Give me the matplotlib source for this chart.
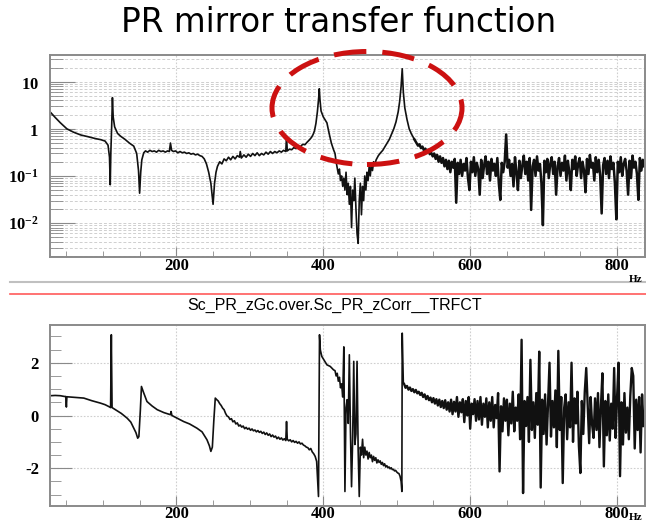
import numpy as np
import matplotlib.pyplot as plt
from matplotlib.patches import Ellipse
from matplotlib.ticker import FixedLocator, MultipleLocator, NullFormatter

plt.rcParams['mathtext.fontset'] = 'custom'
plt.rcParams['mathtext.bf'] = 'Liberation Serif:bold'
plt.rcParams['mathtext.rm'] = 'Liberation Serif:bold'
plt.rcParams['axes.unicode_minus'] = False

title = 'PR mirror transfer function'
subtitle = 'Sc_PR_zGc.over.Sc_PR_zCorr__TRFCT'

# ---- magnitude (top panel) ----
mag_freq = [28.6, 35, 42, 51, 60, 70, 80, 90, 97, 103, 107, 109, 110, 110.8, 112, 113, 114, 116,
            120, 124, 130, 136, 142, 146, 148.5, 150, 151.5, 153, 155.6, 158, 161, 164, 167, 170,
            173, 176, 179, 182, 185, 188, 190.5, 192, 193.5, 196, 199, 202, 205, 208, 211, 214,
            217, 220, 223, 226, 229, 232, 235, 238, 241, 244, 247, 250, 252, 254, 256, 259, 262,
            265, 268, 271, 274, 277, 280, 283, 286, 287, 288.5, 292, 295, 298, 301, 304, 307, 310,
            313, 316, 319, 322, 325, 328, 331, 334, 337, 340, 343, 346, 349, 350, 351, 354, 357,
            360, 363, 366, 369, 372, 375, 378, 381, 384, 386, 388, 390, 392, 394, 394.6, 395.5,
            397, 400, 403, 405, 408, 411, 414]
mag_vals = [2.25, 1.75, 1.35, 1.0, 0.85, 0.74, 0.68, 0.62, 0.59, 0.55, 0.45, 0.25, 0.065, 0.3, 1.2,
            4.6, 1.8, 1.1, 0.8, 0.7, 0.6, 0.5, 0.43, 0.3, 0.13, 0.043, 0.12, 0.22, 0.31, 0.34, 0.32,
            0.35, 0.33, 0.34, 0.32, 0.35, 0.33, 0.34, 0.32, 0.34, 0.33, 0.5, 0.35, 0.33, 0.34, 0.31,
            0.33, 0.31, 0.32, 0.3, 0.31, 0.29, 0.3, 0.28, 0.29, 0.27, 0.26, 0.23, 0.18, 0.12, 0.07,
            0.025, 0.07, 0.12, 0.16, 0.2, 0.18, 0.23, 0.21, 0.25, 0.22, 0.26, 0.23, 0.27, 0.25, 0.33,
            0.24, 0.28, 0.25, 0.29, 0.26, 0.3, 0.27, 0.31, 0.27, 0.3, 0.28, 0.32, 0.29, 0.33, 0.3,
            0.33, 0.31, 0.34, 0.32, 0.35, 0.33, 0.7, 0.34, 0.37, 0.36, 0.4, 0.38, 0.43, 0.42, 0.47,
            0.46, 0.52, 0.58, 0.66, 0.75, 0.9, 1.3, 2.3, 5.0, 7.1, 4.2, 2.4, 1.8, 1.5, 1.34, 0.8,
            0.5, 0.36]

# valley between the two resonances, 416..470 Hz
mag_valley = [0.3, 0.2, 0.15, 0.11, 0.14, 0.08, 0.1, 0.06, 0.09, 0.05, 0.12, 0.04, 0.07, 0.025,
              0.06, 0.008, 0.05, 0.03, 0.09, 0.02, 0.006, 0.0037, 0.03, 0.07, 0.015, 0.06, 0.03,
              0.1, 0.05, 0.12, 0.08, 0.16, 0.1, 0.18, 0.13, 0.2, 0.17]

mag_peak2_freq = [472, 475, 478, 481, 484, 487, 490, 493, 496, 499, 502, 504, 506, 507.5, 509,
                  511, 514, 517, 520, 524]
mag_peak2_vals = [0.22, 0.27, 0.31, 0.35, 0.42, 0.5, 0.6, 0.78, 1.0, 1.4, 2.3, 3.8, 8.0, 18.9, 6.0,
                  2.8, 1.58, 1.0, 0.78, 0.6]

# high-frequency noise floor, 527..837 Hz every 2 Hz
mag_tail = [0.5, 0.44, 0.47, 0.39, 0.42, 0.35, 0.38, 0.32, 0.36, 0.29,
            0.31, 0.26, 0.3, 0.23, 0.28, 0.2, 0.26, 0.19, 0.24, 0.16,
            0.22, 0.14, 0.21, 0.12, 0.2, 0.15, 0.23, 0.027, 0.19, 0.11,
            0.22, 0.1, 0.18, 0.13, 0.24, 0.09, 0.05, 0.2, 0.12, 0.25,
            0.1, 0.19, 0.14, 0.04, 0.22, 0.09, 0.17, 0.26, 0.11, 0.2,
            0.08, 0.23, 0.13, 0.18, 0.1, 0.24, 0.07, 0.031, 0.19, 0.12,
            0.2, 0.76, 0.15, 0.22, 0.1, 0.18, 0.06, 0.25, 0.12, 0.05,
            0.21, 0.09, 0.17, 0.27, 0.11, 0.2, 0.08, 0.24, 0.019, 0.16,
            0.22, 0.1, 0.26, 0.13, 0.18, 0.07, 0.009, 0.21, 0.12, 0.23,
            0.09, 0.18, 0.25, 0.11, 0.2, 0.04, 0.16, 0.24, 0.1, 0.19,
            0.13, 0.27, 0.08, 0.21, 0.12, 0.05, 0.22, 0.14, 0.26, 0.1,
            0.18, 0.24, 0.09, 0.2, 0.13, 0.045, 0.23, 0.11, 0.28, 0.15,
            0.19, 0.08, 0.25, 0.12, 0.22, 0.1, 0.016, 0.17, 0.24, 0.11,
            0.21, 0.09, 0.26, 0.14, 0.19, 0.07, 0.012, 0.2, 0.12, 0.25,
            0.1, 0.18, 0.23, 0.13, 0.04, 0.21, 0.09, 0.27, 0.15, 0.2,
            0.11, 0.031, 0.24, 0.13, 0.22, 0.16]

# ---- phase (bottom panel) ----
ph_freq = [28.6, 35, 42, 48, 49.5, 50.3, 51, 60, 74, 85, 96.6, 103, 108, 110.5, 111.5, 112.5, 117,
           125, 133, 138, 142, 145, 147.4, 149, 151, 152.5, 155, 160, 167, 174, 183, 192, 192.8,
           194, 201, 210, 218, 228, 235, 241.7, 245, 247, 249, 251, 253, 255, 257, 259, 261, 263,
           265, 267, 269, 271, 273, 275, 277, 279, 281, 283, 285, 287, 289, 291, 293, 295, 297,
           299, 301, 303, 305, 307, 309, 311, 313, 315, 317, 319, 321, 323, 325, 327, 329, 331,
           333, 335, 337, 339, 341, 343, 345, 347, 349, 350, 351, 353, 355, 357, 359, 361, 363,
           365, 367, 369, 371, 373, 375, 377, 379, 381, 383, 385, 387, 389, 391, 392.5, 393.5,
           394.9, 396, 398, 401, 405, 409.5, 414]
ph_vals = [0.75, 0.76, 0.75, 0.72, 0.72, 0.32, 0.71, 0.69, 0.66, 0.56, 0.47, 0.41, 0.34, 0.3, 3.06,
           0.3, 0.22, 0.08, -0.1, -0.25, -0.48, -0.65, -0.86, -0.8, 0.2, 1.1, 0.9, 0.53, 0.36, 0.22,
           0.11, 0.03, 0.15, 0.0, -0.1, -0.23, -0.32, -0.48, -0.62, -0.92, -1.15, -1.36, -1.2, -0.2,
           0.66, 0.6, 0.55, 0.45, 0.38, 0.28, 0.22, 0.08, -0.02, -0.05, -0.15, -0.12, -0.24, -0.2,
           -0.32, -0.28, -0.4, -0.36, -0.44, -0.4, -0.5, -0.45, -0.52, -0.48, -0.56, -0.51, -0.58,
           -0.55, -0.62, -0.57, -0.64, -0.6, -0.68, -0.63, -0.72, -0.66, -0.75, -0.7, -0.8, -0.74,
           -0.82, -0.78, -0.88, -0.82, -0.9, -0.85, -0.93, -0.88, -0.95, -0.23, -0.9, -0.96, -0.92,
           -1.0, -0.95, -1.02, -0.98, -1.05, -1.0, -1.08, -1.05, -1.12, -1.15, -1.2, -1.22, -1.3,
           -1.25, -1.38, -1.45, -1.55, -1.74, -2.5, -3.07, 3.06, 2.49, 2.24, 2.1, 1.92, 1.86, 1.73]

# 416..506 Hz every 1.5 Hz
ph_valley = [1.7, 1.5, 1.6, 1.3, 1.45, 1.05, 1.2, 0.7, 2.6, -2.88,
             0.3, 0.6, -0.3, 2.3, -0.6, -2.7, -0.9, 2.05, -1.1, -0.7,
             2.05, -1.3, -3.07, -1.2, -1.5, -0.9, -1.6, -1.2, -1.5, -1.35,
             -1.65, -1.4, -1.6, -1.5, -1.75, -1.55, -1.7, -1.6, -1.8, -1.68,
             -1.78, -1.72, -1.85, -1.78, -1.9, -1.83, -1.95, -1.9, -1.98, -1.95,
             -2.02, -1.98, -2.05, -2.04, -2.1, -2.08, -2.14, -2.18, -2.2, -2.3,
             -2.5]
ph_jump_freq = [507, 507.5]
ph_jump_vals = [-2.88, 3.12]

# 510..836 Hz every 2 Hz
ph_tail = [1.2, 1.05, 1.12, 0.98, 1.06, 0.93, 1.0, 0.88, 0.97, 0.84,
           0.9, 0.78, 0.86, 0.7, 0.8, 0.62, 0.74, 0.58, 0.68, 0.5,
           0.66, 0.45, 0.62, 0.38, 0.6, 0.32, 0.55, 0.28, 0.58, 0.22,
           0.5, 0.15, 0.6, 0.05, 0.52, 0.15, 0.7, -0.05, 0.5, 0.12,
           0.62, -0.25, 0.55, 0.0, 0.7, -0.5, 0.45, 0.05, 0.62, -0.2,
           0.55, -0.15, 0.7, -0.35, 0.45, -0.05, 0.65, -0.45, 0.5, -0.2,
           0.7, -0.45, 0.4, -0.1, 0.85, -2.12, 0.35, -0.6, 0.65, -0.2,
           0.6, -0.75, 0.45, -0.3, 0.9, -0.6, 0.3, -0.2, 0.8, -0.9,
           2.87, -2.94, 0.55, -0.4, 0.7, -1.0, 2.11, -0.55, 0.5, -0.85,
           0.85, -0.35, 2.42, -2.73, 0.6, -0.7, 0.8, -1.1, 0.4, 2.0,
           -0.8, 0.55, -0.45, 0.95, -1.2, 2.45, -0.55, 0.7, -2.56, 0.3,
           0.8, -0.9, 0.5, -0.45, 2.0, -1.0, 0.65, -0.3, 0.9, -1.15,
           -2.18, 0.55, -0.7, 0.9, 1.8, 0.4, -1.05, 0.7, -0.35, -0.85,
           0.65, -0.55, 0.85, -1.2, 0.35, 1.6, -1.93, 0.55, -0.75, 0.8,
           -0.95, 0.45, -0.5, 1.8, -0.85, 0.7, 2.0, -2.3, 0.5, -1.1,
           0.85, -0.65, 0.3, -0.9, 0.75, 1.8, 1.5, -1.25, 0.6, -0.55,
           0.7, -1.4, 0.8, -0.4]

x_ticks = [200, 400, 600, 800]
mag_ticks = [0.01, 0.1, 1, 10]
mag_labels = [r'$\mathbf{10^{-2}}$', r'$\mathbf{10^{-1}}$', r'$\mathbf{1}$', r'$\mathbf{10}$']
ph_ticks = [-2, 0, 2]

# assemble series (the noisy parts are kept apart so they can be drawn heavier)
f_top = np.concatenate([mag_freq, np.linspace(416, 470, len(mag_valley)), mag_peak2_freq])
y_top = np.concatenate([mag_vals, mag_valley, mag_peak2_vals])
f_top_tail = np.concatenate([[524], np.linspace(527, 527 + 2 * (len(mag_tail) - 1), len(mag_tail))])
y_top_tail = np.concatenate([[0.6], mag_tail])
f_bot = np.concatenate([ph_freq, np.linspace(416, 506, len(ph_valley)), ph_jump_freq, [509]])
y_bot = np.concatenate([ph_vals, ph_valley, ph_jump_vals, [1.23]])
f_bot_tail = np.concatenate([[509], np.linspace(510, 510 + 2 * (len(ph_tail) - 1), len(ph_tail))])
y_bot_tail = np.concatenate([[1.23], ph_tail])

W, H = 646, 523
fig = plt.figure(figsize=(W / 100, H / 100), dpi=100)

tick_font = dict(family='Liberation Serif', weight='bold', size=12)
frame_col = '#8a8a8a'
grid_col = '#cfcfcf'
line_col = '#111111'


def style_axes(ax):
    for s in ax.spines.values():
        s.set_color(frame_col)
        s.set_linewidth(1.4)
    ax.tick_params(which='both', direction='in', colors=frame_col, top=False, right=False)
    ax.tick_params(axis='x', which='major', length=7, pad=1)
    ax.tick_params(axis='x', which='minor', length=4)
    ax.tick_params(axis='both', which='both', labelcolor='black')
    ax.xaxis.set_major_locator(FixedLocator(x_ticks))
    ax.xaxis.set_minor_locator(MultipleLocator(50))
    ax.set_xticklabels([str(v) for v in x_ticks], fontdict=tick_font)
    ax.set_xlim(28, 838)
    ax.grid(which='major', axis='x', color=grid_col, ls=(0, (1.5, 1.5)), lw=0.8)


# top panel: magnitude
ax1 = fig.add_axes([50 / W, 1 - 257 / H, 595 / W, 202 / H])
ax1.plot(f_top, y_top, color=line_col, lw=1.2)
ax1.plot(f_top_tail, y_top_tail, color=line_col, lw=1.8)
ax1.set_yscale('log')
ax1.set_ylim(0.0019, 37)
style_axes(ax1)
ax1.yaxis.set_major_locator(FixedLocator(mag_ticks))
ax1.set_yticklabels(mag_labels, fontsize=12)
ax1.yaxis.set_minor_formatter(NullFormatter())
ax1.tick_params(axis='y', which='major', length=18, pad=8)
ax1.tick_params(axis='y', which='minor', length=9)
ax1.grid(which='both', axis='y', color=grid_col, ls=(0, (3, 2)), lw=0.7)

# bottom panel: phase
ax2 = fig.add_axes([50 / W, 1 - 506 / H, 595 / W, 181 / H])
ax2.plot(f_bot, y_bot, color=line_col, lw=1.2)
ax2.plot(f_bot_tail, y_bot_tail, color=line_col, lw=1.7)
ax2.set_ylim(-3.43, 3.43)
style_axes(ax2)
ax2.tick_params(axis='x', which='major', pad=0)
ax2.yaxis.set_major_locator(FixedLocator(ph_ticks))
ax2.yaxis.set_minor_locator(MultipleLocator(0.5))
ax2.set_yticklabels([str(v) for v in ph_ticks], fontdict=tick_font)
ax2.tick_params(axis='y', which='major', length=16, pad=8)
ax2.tick_params(axis='y', which='minor', length=8)
ax2.grid(which='major', axis='y', color=grid_col, ls=(0, (1.5, 1.5)), lw=0.8)

# titles, separators, units
fig.text(339 / W, 1 - 22 / H, title, ha='center', va='center', fontsize=23.5,
         family='DejaVu Sans')
fig.text(335 / W, 1 - 305 / H, subtitle, ha='center', va='center', fontsize=11.5,
         family='Liberation Sans')
fig.add_artist(plt.Line2D([10 / W, 1], [1 - 282 / H] * 2, color='#c0c0c0', lw=1.5))
fig.add_artist(plt.Line2D([10 / W, 1], [1 - 294 / H] * 2, color='#ff5a5a', lw=1.2))
fig.text(636 / W, 1 - 279 / H, 'Hz', ha='center', va='center', fontsize=8,
         family='Liberation Serif', weight='bold')
fig.text(636 / W, 1 - 517 / H, 'Hz', ha='center', va='center', fontsize=8,
         family='Liberation Serif', weight='bold')

# highlight around the two resonances
fig.add_artist(Ellipse((367 / W, 1 - 108 / H), 190 / W, 113 / H, transform=fig.transFigure,
                       fill=False, ec='#cc1111', lw=3.6, ls=(0, (6.5, 3.2))))

fig.savefig('out.png', dpi=100)
